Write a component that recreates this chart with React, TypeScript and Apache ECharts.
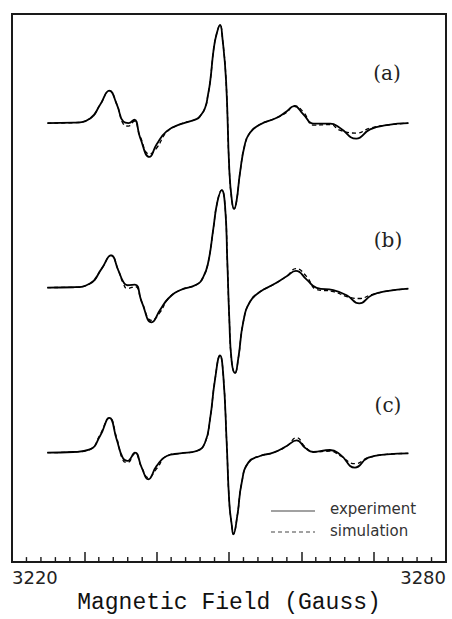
import React, { useEffect, useRef } from "react";
import * as echarts from "echarts";

// Magnetic field (Gauss) sample positions and signal (arbitrary units, relative to each trace's baseline)
const fieldA = [3224.9, 3228.5, 3230.8, 3232.2, 3233.45, 3234.5, 3235.4, 3236.1, 3236.9, 3237.7, 3239.0, 3240.0, 3241.4, 3243.2, 3245.5, 3246.0, 3246.7, 3247.1, 3247.4, 3247.9, 3248.3, 3248.76, 3249.1, 3249.6, 3250.05, 3250.4, 3250.7, 3251.05, 3251.5, 3252.2, 3252.9, 3254.3, 3256.6, 3258.0, 3259.0, 3260.3, 3261.7, 3264.0, 3265.3, 3267.6, 3269.5, 3271.8, 3274.8];
const expA = [0, 0.4, 4.7, 18.7, 32.7, 18.7, 1.4, 0, 3.4, -14.3, -34, -21.3, -8, -1.3, 4, 7, 15.4, 28.7, 42, 75.4, 90, 98.7, 85, 42, -48, -78, -86.3, -78, -51, -21.3, -9.6, -1.3, 5.4, 12, 17, 8.7, -0.6, -0.6, -4.6, -15.6, -6.3, -2, 0];
const simA = [0, 0.4, 4.7, 18.7, 32.7, 18.7, -1, -3, 2, -13, -31, -25, -9, -1.3, 4, 7, 15.4, 28.7, 42, 75.4, 90, 98.7, 85, 42, -48, -78, -86.3, -78, -51, -21.3, -9.6, -1.3, 5.4, 11, 17.5, 11, -2, -1.5, -7, -10, -5, -2, 0];

const fieldB = [3224.88, 3228.47, 3230.78, 3232.4, 3233.69, 3234.7, 3235.39, 3235.94, 3237.0, 3237.93, 3239.31, 3240.46, 3241.61, 3243.23, 3245.53, 3246.45, 3247.14, 3247.83, 3248.38, 3248.99, 3249.45, 3249.77, 3250.04, 3250.37, 3250.83, 3251.29, 3251.98, 3252.9, 3254.29, 3256.12, 3257.98, 3259.26, 3260.74, 3262.12, 3264.42, 3266.27, 3268.01, 3269.73, 3271.8, 3274.79];
const expB = [0, 0.3, 4, 19, 32.3, 17.3, 5.7, 2.3, 3, -14.3, -35, -22.7, -11, -2.7, 3, 10.7, 25.7, 59, 85.7, 98, 82.3, 25.7, -31, -74.3, -86, -71, -34.3, -14.3, -4.3, 3, 11.3, 16.7, 8, -0.3, -2.7, -7.7, -16, -7.7, -3.7, -1];
const simB = [0, 0.3, 4, 19, 32.3, 17.3, 4, -1, 1, -14.3, -33, -25, -11, -2.7, 3, 10.7, 25.7, 59, 85.7, 98, 82.3, 25.7, -31, -74.3, -86, -71, -34.3, -14.3, -4.3, 3, 11.3, 19, 11, -2, -4, -9, -11, -7, -3.7, -1];

const fieldC = [3224.88, 3228.47, 3230.78, 3232.17, 3233.45, 3234.47, 3235.3, 3235.94, 3237.0, 3237.93, 3238.84, 3240.0, 3241.39, 3243.23, 3245.53, 3246.68, 3247.37, 3248.06, 3248.76, 3249.22, 3249.68, 3250.04, 3250.37, 3250.6, 3251.15, 3251.76, 3252.67, 3254.29, 3256.12, 3257.98, 3259.36, 3260.51, 3261.66, 3263.96, 3265.35, 3267.42, 3269.26, 3271.8, 3274.79];
const expC = [0, 0.7, 3.3, 16.7, 35, 13.3, -5, -8.3, 0, -15, -26.7, -13.3, -3.3, -0.7, 1.7, 10, 33.3, 73.3, 97.7, 76.7, 10, -50, -72, -82, -63.3, -30, -10, -3.3, 0, 6.7, 12.3, 5, 0.7, 2.7, -1.7, -15, -5, -1.7, -0.7];
const simC = [0, 0.7, 3.3, 18, 35, 15, -7, -10, -1, -15, -25, -16, -3.3, -0.7, 1.7, 10, 33.3, 73.3, 97.7, 76.7, 10, -50, -72, -82, -63.3, -30, -10, -3.3, 0, 6.7, 15, 6, 0.7, 1.5, -3, -11, -5, -1.7, -0.7];

// vertical offsets of the three stacked spectra (arbitrary units)
const offsets = [441.3, 276, 110];
const traceLabels = ["(a)", "(b)", "(c)"];
const xTickLabels = [3220, 3280];
const legendNames = ["experiment", "simulation"];
// minor tick positions (Gauss) between the major ticks every 10 G
const minorTicks = [3222, 3224, 3226, 3228, 3232, 3234, 3236, 3238, 3242, 3244, 3246, 3248, 3252, 3254, 3256, 3258, 3262, 3264, 3266, 3268, 3272, 3274, 3276, 3278];

const pair = (f: number[], v: number[], off: number) => f.map((x, i) => [x, v[i] + off]);

export default function App() {
  const ref = useRef<HTMLDivElement>(null);
  useEffect(() => {
    if (!ref.current) return;
    const chart = echarts.init(ref.current, null, { renderer: "svg" });
    const traces = [
      [fieldA, expA, simA],
      [fieldB, expB, simB],
      [fieldC, expC, simC],
    ];
    const series: any[] = [];
    traces.forEach(([f, e, s], k) => {
      series.push({
        type: "line",
        name: legendNames[0],
        data: pair(f, e, offsets[k]),
        symbol: "none",
        smooth: 0.5,
        lineStyle: { color: "#000", width: 1.8 },
        z: 2,
      });
      series.push({
        type: "line",
        name: legendNames[1],
        data: pair(f, s, offsets[k]),
        symbol: "none",
        smooth: 0.5,
        lineStyle: { color: "#000", width: 1.3, type: [4, 3] },
        z: 3,
      });
    });
    // minor ticks drawn as thin marks standing on the x axis
    series.push({
      type: "scatter",
      name: "minor ticks",
      data: minorTicks.map((v) => [v, 0]),
      symbol: "rect",
      symbolSize: [1.4, 5],
      symbolOffset: [0, -2.5],
      itemStyle: { color: "#1a1a1a", opacity: 1 },
      clip: false,
      silent: true,
      z: 6,
    });
    const labelPos = [
      [387, 73],
      [388, 240],
      [388, 405],
    ];
    chart.setOption({
      animation: false,
      grid: {
        show: true,
        left: 12,
        right: 6,
        top: 14,
        bottom: 54,
        borderColor: "#1a1a1a",
        borderWidth: 2,
        backgroundColor: "transparent",
      },
      xAxis: {
        type: "value",
        min: 3220,
        max: 3280,
        interval: 10,
        name: "Magnetic Field (Gauss)",
        nameLocation: "middle",
        nameGap: 25,
        nameTextStyle: { fontFamily: "Liberation Mono", fontSize: 23, color: "#111" },
        splitLine: { show: false },
        axisLine: { show: true, lineStyle: { color: "#1a1a1a", width: 2 } },
        axisTick: { show: true, inside: true, length: 10, lineStyle: { color: "#1a1a1a", width: 1.5 } },
        axisLabel: {
          margin: 6,
          fontFamily: "DejaVu Sans",
          fontSize: 18,
          color: "#222",
          showMinLabel: true,
          showMaxLabel: true,
          alignMinLabel: "left",
          alignMaxLabel: "right",
          formatter: (v: number) => (xTickLabels.includes(Math.round(v)) ? String(Math.round(v)) : ""),
        },
      },
      yAxis: { type: "value", min: 0, max: 551, show: false },
      series,
      graphic: [
        ...traceLabels.map((t, i) => ({
          type: "text",
          x: labelPos[i][0],
          y: labelPos[i][1],
          style: {
            text: t,
            fontFamily: "DejaVu Serif",
            fontSize: 20,
            fill: "#222",
            align: "center",
            verticalAlign: "middle",
          },
        })),
        { type: "line", shape: { x1: 271, y1: 511, x2: 315, y2: 511 }, style: { stroke: "#444", lineWidth: 1.2 } },
        { type: "line", shape: { x1: 271, y1: 532, x2: 315, y2: 532 }, style: { stroke: "#444", lineWidth: 1.2, lineDash: [4, 3] } },
        {
          type: "text",
          x: 330,
          y: 509,
          style: { text: legendNames[0], fontFamily: "DejaVu Sans", fontSize: 15, fill: "#333", verticalAlign: "middle" },
        },
        {
          type: "text",
          x: 330,
          y: 531,
          style: { text: legendNames[1], fontFamily: "DejaVu Sans", fontSize: 15, fill: "#333", verticalAlign: "middle" },
        },
      ],
    });
    return () => chart.dispose();
  }, []);
  return <div ref={ref} style={{ position: "fixed", left: 0, top: 0, width: 452, height: 619, background: "#fff" }} />;
}
